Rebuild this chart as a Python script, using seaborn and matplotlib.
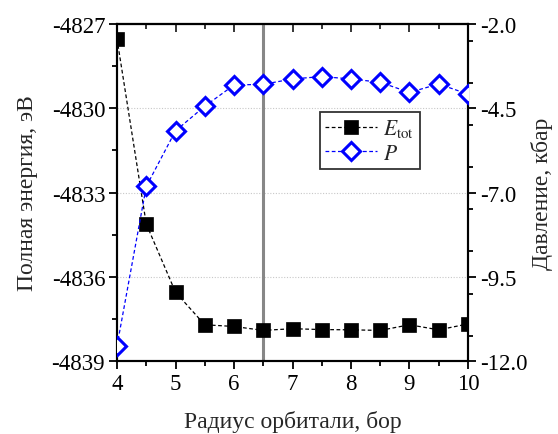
import numpy as np
import pandas as pd
import matplotlib
matplotlib.use("Agg")
import matplotlib.pyplot as plt
from matplotlib.ticker import MultipleLocator, FixedLocator
import seaborn as sns

# Orbital radius (bohr)
radius = [4.0, 4.5, 5.0, 5.5, 6.0, 6.5, 7.0, 7.5, 8.0, 8.5, 9.0, 9.5, 10.0]
# Total energy (eV)
energy = [-4827.53, -4834.12, -4836.55, -4837.71, -4837.77, -4837.91, -4837.85,
          -4837.88, -4837.89, -4837.91, -4837.71, -4837.89, -4837.68]
# Pressure (kbar)
pressure = [-11.55, -6.82, -5.17, -4.44, -3.81, -3.79, -3.63,
            -3.56, -3.63, -3.73, -4.03, -3.78, -4.08]

energy_ticks = [-4827, -4830, -4833, -4836, -4839]
pressure_ticks = [-2.0, -4.5, -7.0, -9.5, -12.0]
chosen_radius = 6.5

df = pd.DataFrame({"r": radius, "E": energy, "P": pressure})

sns.set_theme(style="white")
plt.rcParams["font.family"] = ["Liberation Serif", "DejaVu Serif"]
plt.rcParams["mathtext.fontset"] = "stix"

fig = plt.figure(figsize=(5.58, 4.35), dpi=100)
ax = fig.add_axes([0.2097, 0.1678, 0.6290, 0.7747])
ax2 = ax.twinx()

# horizontal dotted grid at the energy ticks
for yv in energy_ticks[1:-1]:
    ax.axhline(yv, color="#c8c8c8", lw=0.8, ls=(0, (1, 1.5)), zorder=0)

# chosen radius marker line
ax.axvline(chosen_radius, color="#878787", lw=2.2, zorder=1)

sns.lineplot(data=df, x="r", y="E", ax=ax, color="black", lw=0.9,
             linestyle=(0, (3, 2)), marker="s", markersize=9.5,
             markerfacecolor="black", markeredgecolor="black",
             markeredgewidth=0.5, label=r"$E_{\rm tot}$", legend=False, zorder=3)
sns.lineplot(data=df, x="r", y="P", ax=ax2, color="#0000ff", lw=0.9,
             linestyle=(0, (3, 2)), marker="D", markersize=9,
             markerfacecolor="white", markeredgecolor="#0000ff",
             markeredgewidth=2.2, label=r"$P$", legend=False, zorder=3)

ax.set_xlim(4, 10)
ax.set_ylim(-4839, -4827)
ax2.set_ylim(-12.0, -2.0)

ax.xaxis.set_major_locator(MultipleLocator(1))
ax.xaxis.set_minor_locator(MultipleLocator(0.5))
ax.yaxis.set_major_locator(FixedLocator(energy_ticks))
ax.yaxis.set_minor_locator(MultipleLocator(1.5))
ax2.yaxis.set_major_locator(FixedLocator(pressure_ticks))
ax2.yaxis.set_minor_locator(MultipleLocator(1.25))

ax.set_yticklabels([str(v) for v in energy_ticks])
ax2.set_yticklabels([f"{v:.1f}" for v in pressure_ticks])
ax.set_xticklabels([f"{v:g}" for v in ax.get_xticks()])

for a in (ax, ax2):
    for s in a.spines.values():
        s.set_linewidth(1.5)
        s.set_color("black")

ax.tick_params(axis="both", which="both", labelsize=16.5, colors="black",
               width=1.3, direction="out", pad=3)
ax.tick_params(axis="both", which="major", length=5.5)
ax.tick_params(axis="both", which="minor", length=3.5)
ax.tick_params(axis="x", which="both", top=False, bottom=True)
ax.tick_params(axis="y", which="both", left=True, right=False)
ax2.tick_params(axis="y", which="both", labelsize=16.5, colors="black",
                width=1.3, direction="out", right=True, pad=3)
ax2.tick_params(axis="y", which="major", length=5.5)
ax2.tick_params(axis="y", which="minor", length=3.5)

# top axis: inward ticks without labels
top = ax.secondary_xaxis("top")
top.xaxis.set_major_locator(MultipleLocator(1))
top.xaxis.set_minor_locator(MultipleLocator(0.5))
top.tick_params(which="both", direction="in", width=1.3, labeltop=False)
top.tick_params(which="major", length=5.5)
top.tick_params(which="minor", length=3.5)
top.spines["top"].set_linewidth(1.5)

ax.set_xlabel("Радиус орбитали, бор", fontsize=17, labelpad=12)
ax.set_ylabel("Полная энергия, эВ", fontsize=17, labelpad=10)
ax2.set_ylabel("Давление, кбар", fontsize=17, labelpad=3, rotation=90)

h1, l1 = ax.get_legend_handles_labels()
h2, l2 = ax2.get_legend_handles_labels()
leg = ax2.legend(h1 + h2, l1 + l2, loc="upper left",
                 bbox_to_anchor=(0.578, 0.739), borderaxespad=0,
                 fontsize=15.5, frameon=True,
                 fancybox=False, edgecolor="#333333", framealpha=1,
                 handlelength=2.4, handletextpad=0.3, borderpad=0.25,
                 labelspacing=0.2)
leg.get_frame().set_linewidth(1.3)

fig.savefig("out.png", dpi=100)
